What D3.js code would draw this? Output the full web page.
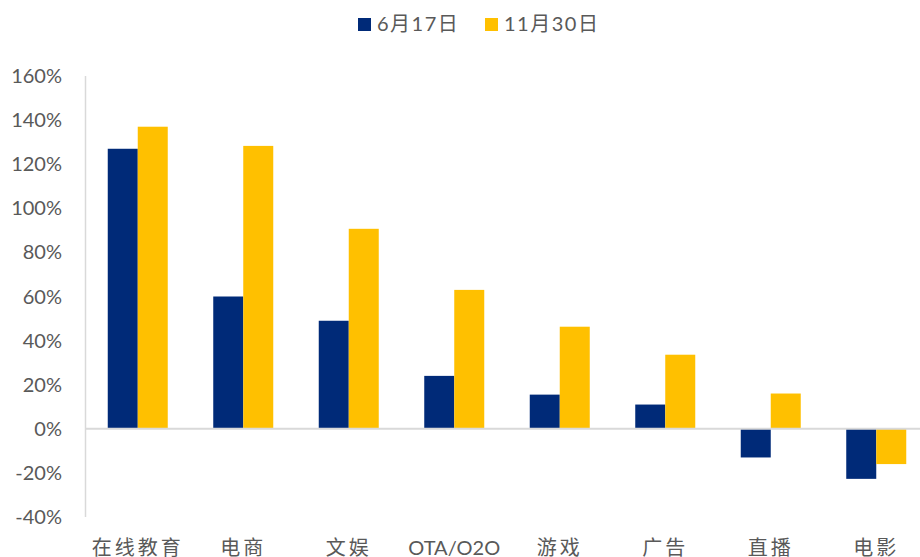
<!DOCTYPE html>
<html>
<head>
<meta charset="utf-8">
<script src="https://cdn.jsdelivr.net/npm/d3@7"></script>
<style>
  body { margin: 0; background: #fff; }
  svg { display: block; }
</style>
</head>
<body>
<svg id="chart" width="920" height="557"></svg>
<script>
var categories = ["在线教育", "电商", "文娱", "OTA/O2O", "游戏", "广告", "直播", "电影"]
var seriesNames = ["6月17日", "11月30日"]
var jun17 = [127, 60, 49, 24, 15.5, 11, -13, -22.7]
var nov30 = [137, 128.3, 90.7, 63, 46.3, 33.6, 16, -16]
var yTicks = [-40, -20, 0, 20, 40, 60, 80, 100, 120, 140, 160]

var colors = ["#002A78", "#FFC000"]
var textColor = "#595959"
var latin = "Lato, 'Open Sans', sans-serif"
var cjk = "'Noto Sans CJK SC', sans-serif"

var svg = d3.select("svg#chart"),
    width = +svg.attr("width"),
    height = +svg.attr("height")

var x = d3.scaleBand().domain(categories).range([85, 929]).paddingInner(0).paddingOuter(0)
var y = d3.scaleLinear().domain([-40, 160]).range([517, 76])

var series = [jun17, nov30]
var barW = x.bandwidth() * 30 / 105.5
var groupOffset = (x.bandwidth() - barW * 2) / 2

// y axis line
svg.append("line")
    .attr("x1", 85.5).attr("x2", 85.5)
    .attr("y1", y(160)).attr("y2", y(-40))
    .attr("stroke", "#d9d9d9").attr("stroke-width", 1.5)

// bars
series.forEach(function (vals, si) {
    svg.append("g").selectAll("rect")
        .data(vals)
        .enter().append("rect")
        .attr("x", function (d, i) { return x(categories[i]) + groupOffset + si * barW })
        .attr("y", function (d) { return y(Math.max(0, d)) })
        .attr("width", barW)
        .attr("height", function (d) { return Math.abs(y(d) - y(0)) })
        .attr("fill", colors[si])
})

// zero line
svg.append("line")
    .attr("x1", 85).attr("x2", width)
    .attr("y1", y(0)).attr("y2", y(0))
    .attr("stroke", "#d9d9d9").attr("stroke-width", 2)

// y tick labels
svg.append("g").selectAll("text")
    .data(yTicks)
    .enter().append("text")
    .attr("x", 62)
    .attr("y", function (d) { return y(d) + 7 })
    .attr("text-anchor", "end")
    .attr("fill", textColor)
    .style("font-family", latin)
    .style("font-size", "20px")
    .text(function (d) { return d + "%" })

// category labels (cut at the bottom edge, as in the original)
svg.append("g").selectAll("text")
    .data(categories)
    .enter().append("text")
    .attr("x", function (d) { return x(d) + x.bandwidth() / 2 })
    .attr("y", 555)
    .attr("text-anchor", "middle")
    .attr("fill", textColor)
    .style("font-family", function (d) { return /[A-Z]/.test(d) ? latin : cjk })
    .style("font-size", "20px")
    .style("letter-spacing", function (d) { return /[A-Z]/.test(d) ? "0px" : "3px" })
    .text(function (d) { return d })

// legend
var legendX = [358, 485]
seriesNames.forEach(function (name, i) {
    svg.append("rect")
        .attr("x", legendX[i]).attr("y", 18)
        .attr("width", 13).attr("height", 13)
        .attr("fill", colors[i])
    svg.append("text")
        .attr("x", legendX[i] + 19).attr("y", 31)
        .attr("fill", textColor)
        .style("font-family", latin + ", " + cjk)
        .style("font-size", "20px")
        .style("letter-spacing", "1.5px")
        .text(name)
})
</script>
</body>
</html>
